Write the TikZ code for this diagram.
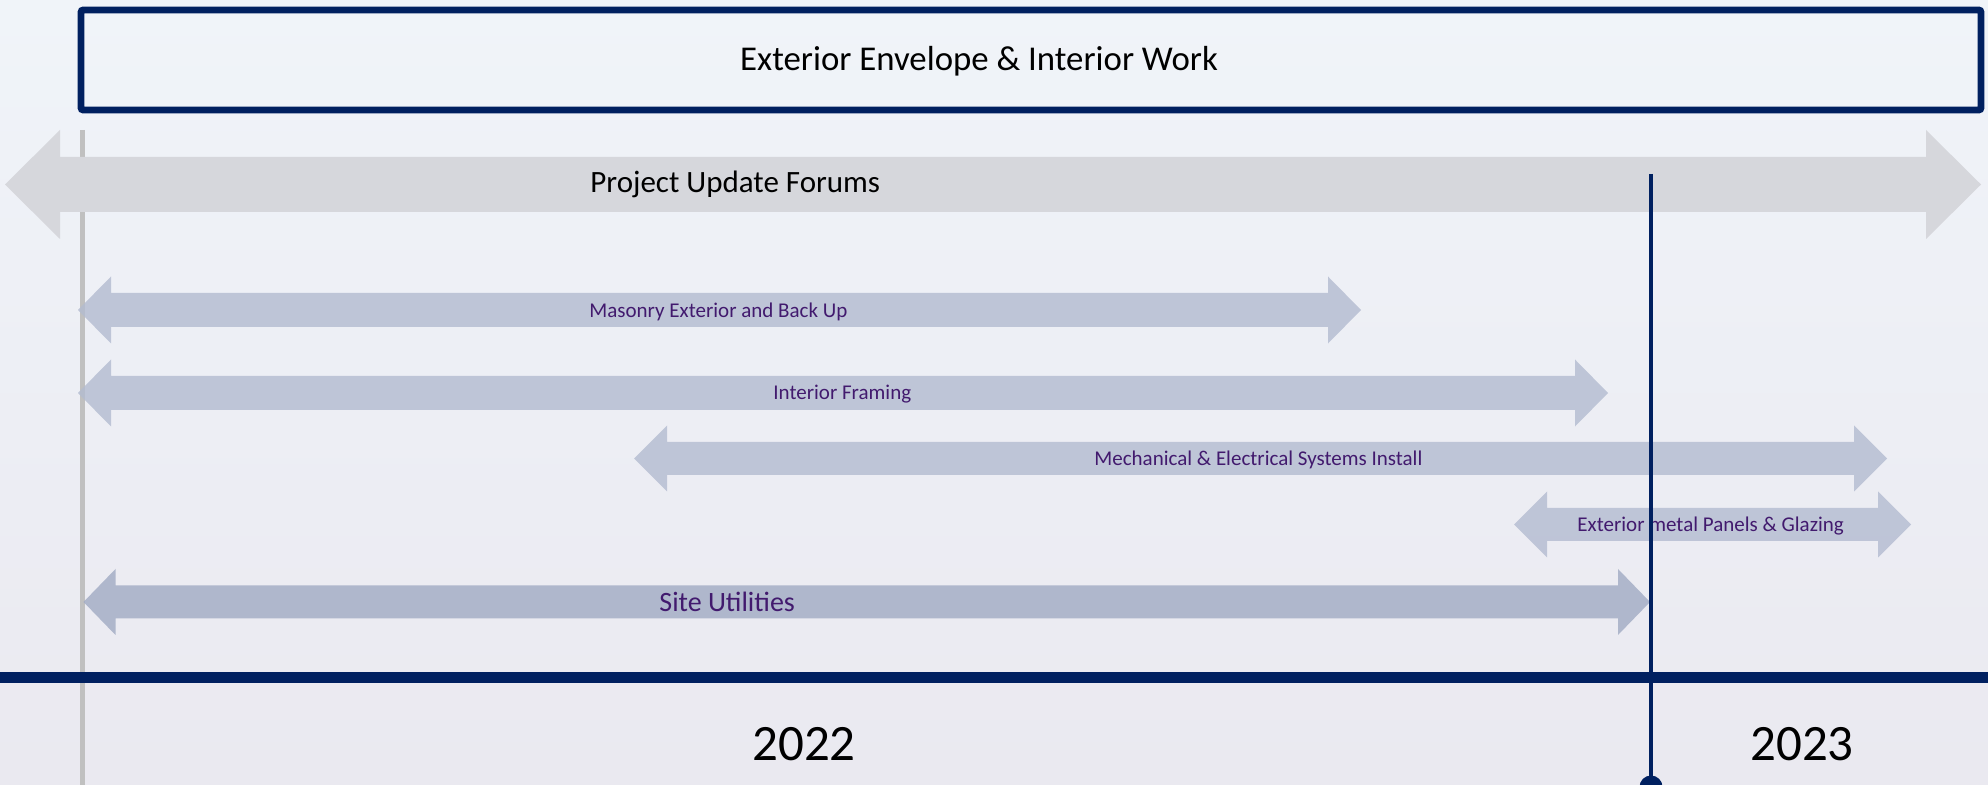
\documentclass[tikz,border=0pt]{standalone}
\usepackage{fontspec}
\setmainfont{Carlito}
\definecolor{navy}{RGB}{0,32,96}
\definecolor{bgtop}{RGB}{240,244,249}
\definecolor{bgbot}{RGB}{234,233,240}
\definecolor{pufill}{RGB}{214,215,220}
\definecolor{barfill}{RGB}{179,187,208}
\definecolor{sitefill}{RGB}{160,170,195}
\definecolor{lblpurple}{RGB}{66,26,110}
\definecolor{vgray}{RGB}{192,192,192}
\newcommand{\dblarrow}[7]{\fill[#1] (#2,#4) -- ({#2+#7},{#4-#6}) -- ({#2+#7},{#4-#5}) -- ({#3-#7},{#4-#5}) -- ({#3-#7},{#4-#6}) -- (#3,#4) -- ({#3-#7},{#4+#6}) -- ({#3-#7},{#4+#5}) -- ({#2+#7},{#4+#5}) -- ({#2+#7},{#4+#6}) -- cycle;}
\tikzset{
  barlbl/.style={anchor=west, inner sep=0pt, text=lblpurple, font=\fontsize{10.5pt}{12pt}\selectfont},
  biglbl/.style={inner sep=0pt, text=black, font=\fontsize{15.5pt}{18pt}\selectfont},
  yearlbl/.style={inner sep=0pt, text=black, font=\fontsize{25.5pt}{30pt}\selectfont},
  barstyle/.style={fill=barfill, fill opacity=0.8},
}
\begin{document}
\begin{tikzpicture}[x=0.5pt, y=-0.5pt]
\useasboundingbox (0,0) rectangle (1988,785);
\shade[top color=bgtop, bottom color=bgbot] (0,0) rectangle (1988,785);
% title box
\node[draw=navy, line width=3.3pt, rounded corners=1pt, minimum width=950pt, minimum height=50pt, inner sep=0pt] (box) at (1031,60) {};
\node[biglbl, font=\fontsize{17.4pt}{20pt}\selectfont, anchor=base] (title) at (979,70.5) {Exterior Envelope \& Interior Work};
% gray vertical line
\coordinate (gtop) at (82,130);
\coordinate (gbot) at (82,785);
\draw[vgray, line width=2.5pt] (gtop) -- (gbot);
% arrows
\dblarrow{pufill}{5}{1981}{184.5}{27.5}{54.5}{55}
\dblarrow{barstyle}{78}{1361}{310}{17}{33.5}{33}
\dblarrow{barstyle}{78}{1608}{393}{17}{33.5}{33}
\dblarrow{barstyle}{634}{1887}{458.5}{16.5}{33}{33}
\dblarrow{barstyle}{1514}{1911}{524.5}{16.5}{33}{33}
\dblarrow{fill=sitefill, fill opacity=0.8}{83.5}{1650}{602}{16.5}{33}{32}
% labels
\node[biglbl, anchor=west] (puf) at (590,184) {Project Update Forums};
\node[barlbl] (mas) at (589,311.5) {Masonry Exterior and Back Up};
\node[barlbl] (intf) at (773,394.5) {Interior Framing};
\node[barlbl] (mech) at (1094,460) {Mechanical \& Electrical Systems Install};
\node[barlbl] (extm) at (1577,526) {Exterior metal Panels \& Glazing};
\node[barlbl, font=\fontsize{14pt}{16pt}\selectfont] (site) at (659,602) {Site Utilities};
% timeline
\coordinate (tl) at (0,677.5);
\coordinate (tr) at (1988,677.5);
\draw[navy, line width=5.5pt] (tl) -- (tr);
\coordinate (ntop) at (1651,174);
\coordinate (nbot) at (1651,787);
\draw[navy, line width=2.3pt] (ntop) -- (nbot);
\fill[navy] (nbot) circle (11.5);
\node[yearlbl] (y22) at (804,744) {2022};
\node[yearlbl] (y23) at (1802,744) {2023};
\end{tikzpicture}
\end{document}
